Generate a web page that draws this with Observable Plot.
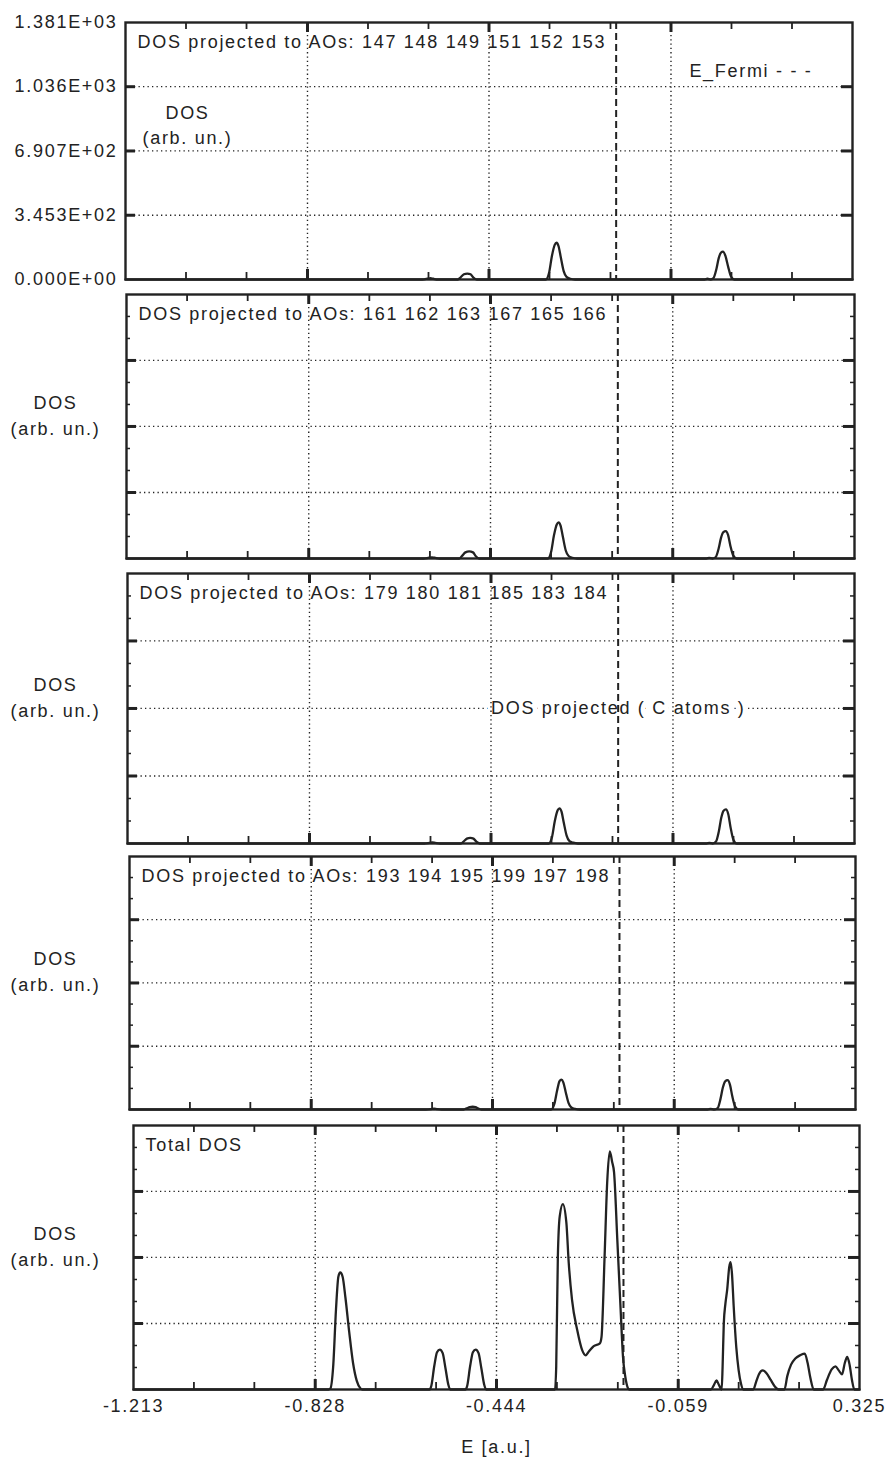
<!DOCTYPE html>
<html><head><meta charset="utf-8">
<script src="https://cdn.jsdelivr.net/npm/d3@7"></script>
<script src="https://cdn.jsdelivr.net/npm/@observablehq/plot@0.6"></script>
<style>
body{margin:0;background:#fff;}
#chart{position:relative;width:894px;height:1462px;overflow:hidden;background:#fff;}
#chart svg{position:absolute;left:0;overflow:visible;}
#chart text{letter-spacing:1.7px;}
</style></head><body><div id="chart"></div>
<script>
// ---- axes / ticks ----
const xMin = -1.213, xMax = 0.325, yMax = 1381;
const xTickVals = [-1.213, -0.828, -0.444, -0.059, 0.325];
const xTickLabels = ["-1.213", "-0.828", "-0.444", "-0.059", "0.325"];
const xMinorTicks = [-1.085, -0.957, -0.700, -0.572, -0.316, -0.187, 0.069, 0.197];
const yTickVals = [0, 345.3, 690.7, 1036, 1381];
const yTickLabels = ["0.000E+00", "3.453E+02", "6.907E+02", "1.036E+03", "1.381E+03"];
const yMinorTicks = [115.1, 230.2, 460.4, 575.5, 805.8, 920.9, 1151.1, 1266.2];
const eFermi = -0.175;

const titles = [
  "DOS projected to AOs: 147 148 149 151 152 153",
  "DOS projected to AOs: 161 162 163 167 165 166",
  "DOS projected to AOs: 179 180 181 185 183 184",
  "DOS projected to AOs: 193 194 195 199 197 198",
  "Total DOS"
];
const fermiLabel = "E_Fermi - - -";
const cAtomsLabel = "DOS projected ( C atoms )";
const yLabel = "DOS\n(arb. un.)";
const xLabel = "E [a.u.]";

// ---- series (E in a.u., DOS in arb. units) ----
const p1E   = [-1.213, -0.585, -0.574, -0.568, -0.562, -0.552, -0.510, -0.504, -0.497, -0.490, -0.483, -0.477, -0.470, -0.324, -0.317, -0.311, -0.305, -0.301, -0.297, -0.292, -0.286, -0.280, -0.272, -0.262, 0.012, 0.018, 0.025, 0.031, 0.037, 0.042, 0.047, 0.051, 0.056, 0.062, 0.068, 0.075, 0.325];
const p1Dos = [0, 0, 4, 7, 4, 0, 0, 12, 28, 32, 28, 10, 0, 0, 35, 125, 186, 198, 180, 118, 45, 14, 4, 0, 0, 4, 0, 8, 55, 115, 145, 150, 128, 68, 16, 0, 0];

const p2E   = [-1.213, -0.585, -0.574, -0.568, -0.562, -0.552, -0.510, -0.504, -0.497, -0.489, -0.481, -0.475, -0.468, -0.323, -0.316, -0.310, -0.304, -0.300, -0.296, -0.291, -0.285, -0.279, -0.271, -0.261, 0.012, 0.018, 0.025, 0.032, 0.038, 0.043, 0.048, 0.053, 0.058, 0.063, 0.069, 0.076, 0.325];
const p2Dos = [0, 0, 4, 6, 4, 0, 0, 14, 32, 37, 32, 12, 0, 0, 34, 120, 178, 189, 172, 112, 42, 13, 4, 0, 0, 3, 0, 8, 52, 108, 138, 143, 122, 64, 15, 0, 0];

const p3E   = [-1.213, -0.585, -0.574, -0.568, -0.562, -0.552, -0.508, -0.502, -0.495, -0.488, -0.481, -0.475, -0.468, -0.322, -0.315, -0.309, -0.303, -0.299, -0.295, -0.290, -0.284, -0.278, -0.270, -0.260, 0.012, 0.018, 0.025, 0.032, 0.038, 0.043, 0.048, 0.053, 0.058, 0.063, 0.069, 0.076, 0.325];
const p3Dos = [0, 0, 3, 5, 3, 0, 0, 10, 25, 29, 25, 9, 0, 0, 32, 115, 170, 180, 164, 106, 40, 12, 4, 0, 0, 3, 0, 10, 62, 130, 168, 175, 150, 80, 18, 0, 0];

const p4E   = [-1.213, -0.585, -0.574, -0.568, -0.562, -0.552, -0.505, -0.499, -0.492, -0.486, -0.480, -0.474, -0.468, -0.320, -0.313, -0.307, -0.302, -0.298, -0.294, -0.289, -0.283, -0.277, -0.269, -0.259, 0.012, 0.018, 0.025, 0.033, 0.039, 0.044, 0.049, 0.054, 0.059, 0.064, 0.070, 0.077, 0.325];
const p4Dos = [0, 0, 2, 4, 2, 0, 0, 6, 13, 15, 13, 5, 0, 0, 30, 105, 155, 163, 148, 96, 36, 11, 3, 0, 0, 3, 0, 8, 58, 120, 154, 160, 136, 72, 16, 0, 0];

const totE = [
  -1.213, -0.800, -0.796, -0.790, -0.784, -0.779, -0.775, -0.770, -0.764, -0.756, -0.748, -0.740, -0.732, -0.728,
  -0.586, -0.582, -0.576, -0.570, -0.564, -0.558, -0.552, -0.546, -0.542,
  -0.510, -0.506, -0.500, -0.494, -0.488, -0.482, -0.476, -0.470, -0.466,
  -0.320, -0.3175, -0.314, -0.310, -0.3035, -0.296, -0.291, -0.284, -0.273, -0.2625, -0.255, -0.248, -0.238, -0.225, -0.2215, -0.215, -0.2095, -0.204, -0.199, -0.195, -0.188, -0.181, -0.176, -0.171, -0.166, -0.163,
  0.010, 0.016, 0.022, 0.027, 0.031, 0.033, 0.035, 0.0375, 0.041, 0.0447, 0.049, 0.052, 0.055, 0.0585, 0.064, 0.069, 0.074, 0.079,
  0.100, 0.106, 0.112, 0.120, 0.128, 0.137, 0.146, 0.154,
  0.166, 0.172, 0.180, 0.189, 0.200, 0.209, 0.215, 0.221, 0.228,
  0.248, 0.256, 0.266, 0.274, 0.281, 0.288, 0.294, 0.299, 0.304, 0.309, 0.314, 0.325
];
const totDos = [
  0, 0, 5, 120, 420, 590, 612, 590, 480, 300, 140, 45, 5, 0,
  0, 20, 120, 195, 209, 190, 110, 25, 0,
  0, 20, 120, 195, 209, 190, 110, 25, 0,
  0, 120, 697, 907, 970, 873, 663, 469, 311, 206, 179, 200, 227, 241, 275, 697, 1084, 1246, 1190, 1137, 780, 416, 170, 65, 10, 0,
  0, 20, 47, 25, 5, 0, 120, 346, 450, 522, 640, 666, 600, 434, 220, 100, 30, 0,
  0, 40, 80, 100, 85, 50, 15, 0,
  0, 70, 130, 162, 180, 188, 140, 60, 0,
  0, 50, 105, 121, 100, 79, 140, 170, 130, 50, 0, 0
];

// ---- layout of the five stacked panels (frame edges in px) ----
const panels = [
  {top: 22,   bottom: 279,  left: 125, right: 852, E: p1E,  D: p1Dos,  title: titles[0], first: true},
  {top: 294,  bottom: 558,  left: 126, right: 854, E: p2E,  D: p2Dos,  title: titles[1]},
  {top: 573,  bottom: 843,  left: 127, right: 854, E: p3E,  D: p3Dos,  title: titles[2], cAtoms: true},
  {top: 856,  bottom: 1109, left: 129, right: 855, E: p4E,  D: p4Dos,  title: titles[3]},
  {top: 1125, bottom: 1389, left: 133, right: 859, E: totE, D: totDos, title: titles[4], last: true}
];

const ink = "#222";
const chart = document.getElementById("chart");
const W = 894;

for (const p of panels) {
  const mt = 14, mb = p.last ? 70 : 10;
  const h = p.bottom - p.top;
  const ml = p.left, mr = W - p.right;
  const pw = p.right - p.left;
  const yLabelDx = 55 - ml;
  const rows = p.E.map((e, i) => ({E: e, DOS: p.D[i]}));
  const marks = [
    Plot.ruleY(yTickVals.slice(1, -1), {y: d => d, stroke: ink, strokeWidth: 1.3, strokeDasharray: "1.3,3.2"}),
  ];
  if (p.cAtoms) {
    marks.push(Plot.text([cAtomsLabel], {x: -0.444, y: 690.7, text: d => d, textAnchor: "start", lineAnchor: "middle",
      fontSize: 18, fill: ink, stroke: "white", strokeWidth: 10, paintOrder: "stroke"}));
  }
  marks.push(
    Plot.ruleX(xTickVals.slice(1, -1), {x: d => d, stroke: ink, strokeWidth: 1.4, strokeDasharray: "1.3,3"}),
    Plot.ruleX([eFermi], {x: d => d, stroke: ink, strokeWidth: 2, strokeDasharray: "7,4"}),
    Plot.line(rows, {x: "E", y: "DOS", curve: "monotone-x", stroke: ink, strokeWidth: 2.3}),
    // x ticks, inward, top and bottom
    Plot.tickX(xTickVals.slice(1, -1), {x: d => d, insetTop: h - 10, stroke: ink, strokeWidth: 3}),
    Plot.tickX(xTickVals.slice(1, -1), {x: d => d, insetBottom: h - 10, stroke: ink, strokeWidth: 3}),
    Plot.tickX(xMinorTicks, {x: d => d, insetTop: h - 7, stroke: ink, strokeWidth: 1.8}),
    Plot.tickX(xMinorTicks, {x: d => d, insetBottom: h - 7, stroke: ink, strokeWidth: 1.8}),
    // y ticks, inward, left and right
    Plot.tickY(yTickVals.slice(1, -1), {y: d => d, insetRight: pw - 10, stroke: ink, strokeWidth: 3}),
    Plot.tickY(yTickVals.slice(1, -1), {y: d => d, insetLeft: pw - 11, stroke: ink, strokeWidth: 3}),
    Plot.frame({stroke: ink, strokeWidth: 2.4}),
    Plot.text([p.title], {frameAnchor: "top-left", text: d => d, dx: 12, dy: 20, textAnchor: "start", lineAnchor: "middle", fontSize: 18, fill: ink})
  );
  if (!p.first) {
    marks.push(
      Plot.tickY(yMinorTicks, {y: d => d, insetRight: pw - 4, stroke: ink, strokeWidth: 1.5}),
      Plot.tickY(yMinorTicks, {y: d => d, insetLeft: pw - 4, stroke: ink, strokeWidth: 1.5}),
      Plot.text([yLabel], {frameAnchor: "left", text: d => d, dx: yLabelDx, dy: -13, textAnchor: "middle", lineAnchor: "middle", lineHeight: 1.45, fontSize: 18, fill: ink})
    );
  } else {
    marks.push(
      Plot.text(yTickLabels, {frameAnchor: "left", y: (d, i) => yTickVals[i], text: d => d, dx: -8, textAnchor: "end", lineAnchor: "middle", fontSize: 18, fill: ink}),
      Plot.text([yLabel], {frameAnchor: "top-left", text: d => d, dx: 62, dy: 101, textAnchor: "middle", lineAnchor: "middle", lineHeight: 1.4, fontSize: 18, fill: ink}),
      Plot.text([fermiLabel], {frameAnchor: "top-right", text: d => d, dx: -40, dy: 49, textAnchor: "end", lineAnchor: "middle", fontSize: 18, fill: ink})
    );
  }
  if (p.last) {
    marks.push(
      Plot.text(xTickLabels, {frameAnchor: "bottom", x: (d, i) => xTickVals[i], text: d => d, dy: 17, lineAnchor: "middle", fontSize: 18, fill: ink}),
      Plot.text([xLabel], {frameAnchor: "bottom", text: d => d, dy: 58, lineAnchor: "middle", fontSize: 18, fill: ink})
    );
  }
  const svg = Plot.plot({
    width: W, height: h + mt + mb,
    marginLeft: ml, marginRight: mr, marginTop: mt, marginBottom: mb,
    x: {domain: [xMin, xMax], axis: null},
    y: {domain: [0, yMax], axis: null},
    style: {fontFamily: "'Liberation Sans', Arial, sans-serif", background: "transparent", color: ink, overflow: "visible"},
    marks
  });
  svg.style.top = (p.top - mt) + "px";
  chart.appendChild(svg);
}
</script></body></html>
